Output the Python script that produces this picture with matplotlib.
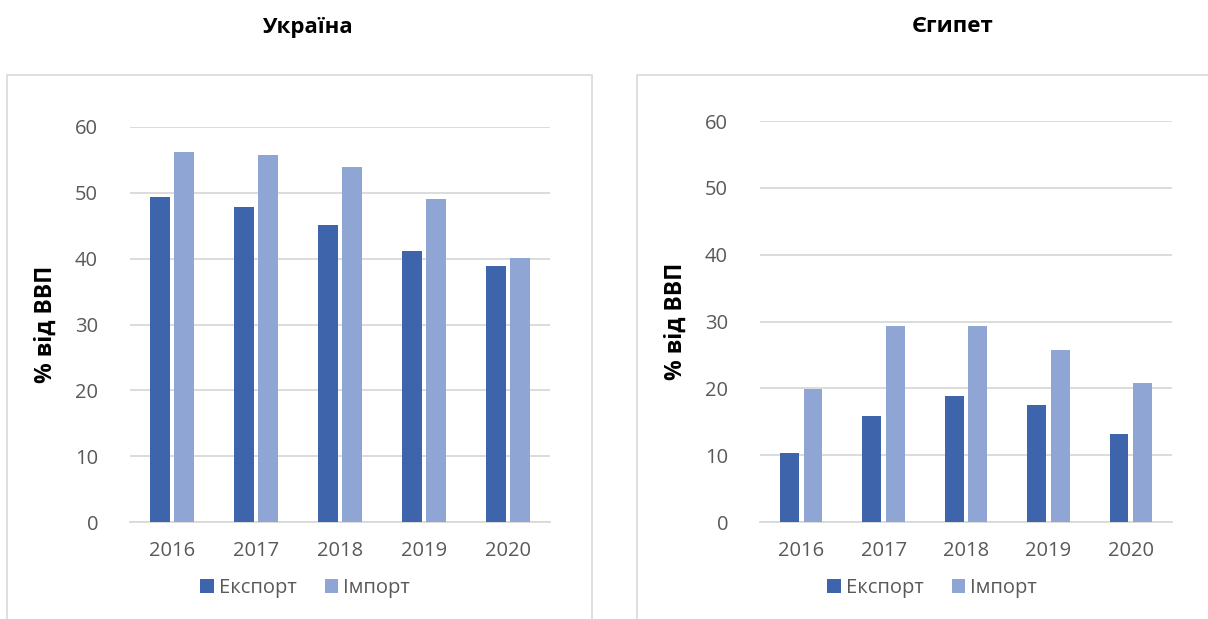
import numpy as np
import matplotlib
matplotlib.use("Agg")
import matplotlib.pyplot as plt
from matplotlib.patches import Rectangle

plt.rcParams["font.family"] = ["Open Sans", "DejaVu Sans"]

years = ["2016", "2017", "2018", "2019", "2020"]
ukraine_export = [49.3, 47.9, 45.1, 41.1, 38.9]
ukraine_import = [56.2, 55.7, 53.9, 49.0, 40.1]
egypt_export = [10.3, 15.8, 18.9, 17.5, 13.1]
egypt_import = [19.9, 29.3, 29.4, 25.8, 20.8]

EXPORT_COLOR = "#3E64AC"
IMPORT_COLOR = "#8FA5D4"
GRID_COLOR = "#D9D9D9"
TEXT_COLOR = "#595959"

W, H = 1208, 619
fig = plt.figure(figsize=(W / 100, H / 100), dpi=100)


def px_box(x0, y0, x1, y1):
    # pixel box (top-left origin) -> figure fraction [left, bottom, width, height]
    return [x0 / W, 1 - y1 / H, (x1 - x0) / W, (y1 - y0) / H]


def draw_panel(box, title, title_x, exp, imp, frame, legend_x):
    # chart frame
    fx0, fy0, fx1, fy1 = frame
    fig.patches.append(Rectangle((fx0 / W, 1 - fy1 / H), (fx1 - fx0) / W, (fy1 - fy0) / H,
                                 transform=fig.transFigure, fill=False,
                                 edgecolor=GRID_COLOR, linewidth=1.2))
    fig.text(title_x / W, 1 - 27 / H, title, ha="center", va="center",
             fontsize=16, fontweight="bold", color="black")

    ax = fig.add_axes(px_box(*box))
    x = np.arange(len(years))
    w = 0.23
    ax.bar(x - 0.143, exp, width=w, color=EXPORT_COLOR, label="Експорт", zorder=3)
    ax.bar(x + 0.143, imp, width=w, color=IMPORT_COLOR, label="Імпорт", zorder=3)
    ax.set_xlim(-0.5, len(years) - 0.5)
    ax.set_ylim(0, 60)
    ax.set_yticks(range(0, 61, 10))
    ax.set_xticks(x)
    ax.set_xticklabels(years)
    ax.grid(axis="y", color=GRID_COLOR, linewidth=1.3, zorder=0)
    ax.set_axisbelow(True)
    for s in ["top", "right", "left"]:
        ax.spines[s].set_visible(False)
    ax.spines["bottom"].set_color(GRID_COLOR)
    ax.spines["bottom"].set_linewidth(1.3)
    ax.tick_params(axis="both", length=0, labelsize=14.5, labelcolor=TEXT_COLOR)
    ax.tick_params(axis="y", pad=23)
    ax.tick_params(axis="x", pad=14)
    ax.set_ylabel("% від ВВП", fontsize=16.5, fontweight="bold", color="black", labelpad=12)
    ax.legend(loc="center", bbox_to_anchor=(legend_x / W, 1 - 588 / H),
              bbox_transform=fig.transFigure, ncol=2, frameon=False,
              fontsize=14.5, labelcolor=TEXT_COLOR, handlelength=0.68, handleheight=0.68,
              handletextpad=0.25, columnspacing=1.4)
    return ax


draw_panel((130, 127, 550, 522), "Україна", 308, ukraine_export, ukraine_import,
           (7, 75, 592, 640), 305)
draw_panel((760, 121, 1172, 522), "Єгипет", 953, egypt_export, egypt_import,
           (637, 75, 1230, 640), 932)

fig.savefig("out.png", dpi=100)
